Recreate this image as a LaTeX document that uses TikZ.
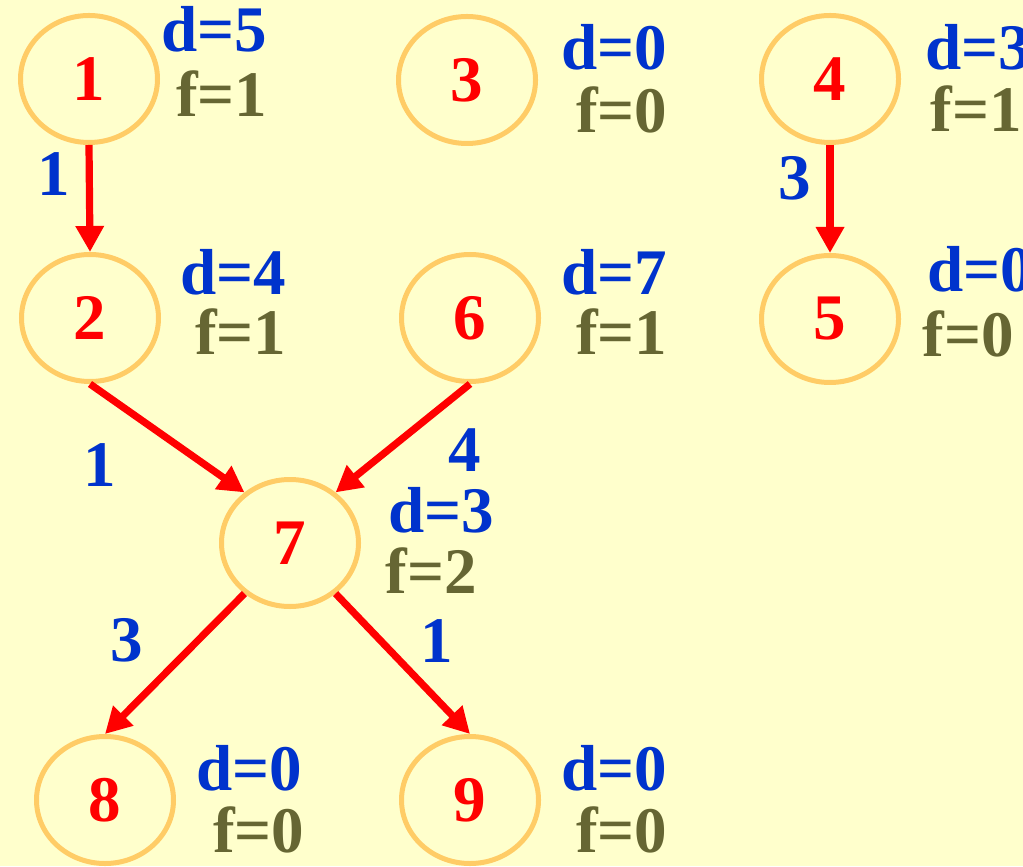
\documentclass[tikz,border=0pt]{standalone}
\usepackage{fontspec}
\setmainfont{Liberation Serif}
\usetikzlibrary{shapes.geometric,arrows.meta}
\definecolor{fond}{RGB}{255,255,204}
\definecolor{anneau}{RGB}{255,204,102}
\definecolor{bleu}{RGB}{0,51,204}
\definecolor{olive}{RGB}{102,102,51}
\begin{document}
\begin{tikzpicture}[
    sommet/.style={ellipse, draw=anneau, line width=0.05cm, minimum width=1.37cm,
                   minimum height=1.27cm, inner sep=0pt, text=red},
    arc/.style={draw=red, line width=0.072cm, -{Triangle[length=0.26cm,width=0.27cm]}},
    poids/.style={text=bleu},
    dval/.style={text=bleu, inner sep=0pt},
    fval/.style={text=olive, inner sep=0pt},
    every node/.style={font=\fontsize{18.5}{22}\selectfont\bfseries}]
            \fill[fond] (0,0) rectangle (10.23,8.66);
            \useasboundingbox (0,0) rectangle (10.23,8.66);
            % sommets
            \node[sommet] (n1) at (0.89,7.87) {1};
            \node[sommet] (n3) at (4.67,7.86) {3};
            \node[sommet] (n4) at (8.30,7.87) {4};
            \node[sommet] (n2) at (0.90,5.48) {2};
            \node[sommet] (n6) at (4.70,5.48) {6};
            \node[sommet] (n5) at (8.30,5.47) {5};
            \node[sommet] (n7) at (2.90,3.23) {7};
            \node[sommet] (n8) at (1.05,0.66) {8};
            \node[sommet] (n9) at (4.70,0.66) {9};
            % arcs
            \draw[arc] (n1.south) -- (n2.north);
            \draw[arc] (n4.south) -- (n5.north);
            \draw[arc] (n2.south) -- (n7.132);
            \draw[arc] (n6.south) -- (n7.48);
            \draw[arc] (n7.228) -- (n8.north);
            \draw[arc] (n7.-48) -- (n9.north);
            % poids des arcs
            \node[poids] (p12) at (0.54,6.92) {1};
            \node[poids] (p45) at (7.95,6.88) {3};
            \node[poids] (p27) at (1.00,4.01) {1};
            \node[poids] (p67) at (4.65,4.16) {4};
            \node[poids] (p78) at (1.27,2.26) {3};
            \node[poids] (p79) at (4.37,2.25) {1};
            % valeurs d et f
            \node[dval, anchor=base east] (d1) at (2.68,8.14) {d=5};
            \node[fval, anchor=base east] (f1) at (2.68,7.49) {f=1};
            \node[dval, anchor=base east] (d3) at (6.68,7.96) {d=0};
            \node[fval, anchor=base east] (f3) at (6.68,7.33) {f=0};
            \node[dval, anchor=base west] (d4) at (9.25,7.96) {d=3};
            \node[fval, anchor=base west] (f4) at (9.30,7.34) {f=1};
            \node[dval, anchor=base east] (d2) at (2.87,5.71) {d=4};
            \node[fval, anchor=base east] (f2) at (2.87,5.11) {f=1};
            \node[dval, anchor=base east] (d6) at (6.68,5.71) {d=7};
            \node[fval, anchor=base east] (f6) at (6.68,5.11) {f=1};
            \node[dval, anchor=base west] (d5) at (9.27,5.74) {d=0};
            \node[fval, anchor=base west] (f5) at (9.22,5.09) {f=0};
            \node[dval, anchor=base west] (d7) at (3.88,3.34) {d=3};
            \node[fval, anchor=base west] (f7) at (3.85,2.73) {f=2};
            \node[dval, anchor=base east] (d8) at (3.03,0.76) {d=0};
            \node[fval, anchor=base east] (f8) at (3.05,0.14) {f=0};
            \node[dval, anchor=base east] (d9) at (6.68,0.76) {d=0};
            \node[fval, anchor=base east] (f9) at (6.68,0.14) {f=0};
        \end{tikzpicture}
\end{document}
